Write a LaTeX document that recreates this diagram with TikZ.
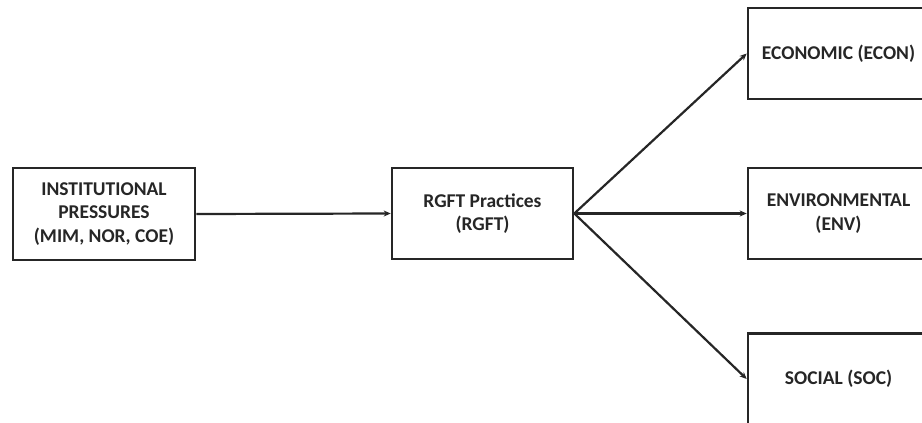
\documentclass[tikz,border=0pt]{standalone}
\usepackage{fontspec}
\setmainfont{Carlito}
\usetikzlibrary{arrows.meta}
\begin{document}
\begin{tikzpicture}[x=1pt,y=-1pt,
  box/.style={draw=black!85, line width=2.6pt, minimum width=181pt, minimum height=91pt,
    inner sep=0pt, align=center, font=\fontsize{19.5}{23.5}\selectfont\bfseries, text=black!85},
  conn/.style={draw=black!85, line width=2.2pt, -{Stealth[length=7pt,width=6pt]}}]
\useasboundingbox (0,0) rectangle (922,423);
\clip (0,0) rectangle (922,423);
\fill[white] (0,0) rectangle (922,423);
\node[box, minimum width=182pt, minimum height=92pt] (inst) at (104,214) {INSTITUTIONAL\\PRESSURES\\(MIM, NOR, COE)};
\node[box] (rgft) at (482.5,213.5) {RGFT Practices\\(RGFT)};
\node[box] (econ) at (838.5,53.5) {ECONOMIC (ECON)};
\node[box] (env) at (838.5,213.5) {ENVIRONMENTAL\\(ENV)};
\node[box] (soc) at (838.5,379) {SOCIAL (SOC)};
\draw[conn] (inst.east) -- (rgft.west);
\draw[conn] (rgft.east) -- (econ.west);
\draw[conn] (rgft.east) -- (env.west);
\draw[conn] (rgft.east) -- (soc.west);
\end{tikzpicture}
\end{document}
